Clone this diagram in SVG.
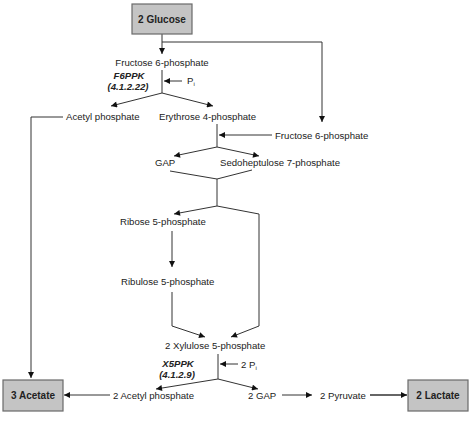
<svg xmlns="http://www.w3.org/2000/svg" width="474" height="422" viewBox="0 0 474 422">
<style>
text{font-family:"Liberation Sans",Arial,sans-serif;font-size:9.6px;fill:#222}
.b{font-weight:bold;font-size:10px}
.e{font-weight:bold;font-style:italic;font-size:9.6px}
.box{fill:#c4c4c4;stroke:#6a6a6a;stroke-width:1.2}
.c path{fill:none;stroke:#333;stroke-width:1}
.c path.a{marker-end:url(#ah)}
</style>
<defs>
<marker id="ah" viewBox="0 0 10 10" refX="10" refY="5" markerWidth="8" markerHeight="6" markerUnits="userSpaceOnUse" orient="auto">
<path d="M0,0 L10,5 L0,10 z" fill="#111"/>
</marker>
</defs>
<rect width="474" height="422" fill="#fff"/>
<g class="c" id="connectors">
<path class="a" d="M162,34 V54"/>
<path class="a" d="M162,42 H322 V122"/>
<path d="M162,70 V93"/>
<path class="a" d="M182,81 H164"/>
<path class="a" d="M162,93 L111,106"/>
<path class="a" d="M162,93 L213,106"/>
<path class="a" d="M63,117 H31 V378"/>
<path d="M217,124 V147"/>
<path class="a" d="M272,135 H219"/>
<path class="a" d="M217,147 L174,156"/>
<path class="a" d="M217,147 L259,156"/>
<path d="M170,171 L217,179 L252,170"/>
<path d="M217,179 V206"/>
<path class="a" d="M217,206 L174,214"/>
<path class="a" d="M217,206 L259,214 V326 L231,337"/>
<path class="a" d="M172,231 V267"/>
<path class="a" d="M172,292 V326 L205,337"/>
<path d="M218,354 V379"/>
<path class="a" d="M238,364 H220"/>
<path class="a" d="M218,379 L156,389"/>
<path class="a" d="M218,379 L258,389"/>
<path class="a" d="M110,395 H64"/>
<path class="a" d="M282,395 H312"/>
<path class="a" d="M370,395 H407" style="stroke-width:1.6"/>
</g>
<g id="glucose"><rect class="box" x="132" y="4" width="60" height="30"/><text class="b" x="162" y="23" text-anchor="middle">2 Glucose</text></g>
<g id="f6p"><text x="162" y="66" text-anchor="middle">Fructose 6-phosphate</text></g>
<g id="f6ppk"><text class="e" x="129" y="79" text-anchor="middle">F6PPK</text><text class="e" x="128" y="90" text-anchor="middle">(4.1.2.22)</text></g>
<g id="pi1"><text x="187" y="84">P<tspan font-size="6" dy="2">i</tspan></text></g>
<g id="acp1"><text x="66" y="120">Acetyl phosphate</text></g>
<g id="e4p"><text x="159" y="120">Erythrose 4-phosphate</text></g>
<g id="f6p2"><text x="275" y="139">Fructose 6-phosphate</text></g>
<g id="gap1"><text x="155" y="166">GAP</text></g>
<g id="s7p"><text x="220" y="166">Sedoheptulose 7-phosphate</text></g>
<g id="r5p"><text x="120" y="225">Ribose 5-phosphate</text></g>
<g id="ru5p"><text x="121" y="285">Ribulose 5-phosphate</text></g>
<g id="x5p"><text x="165" y="349">2 Xylulose 5-phosphate</text></g>
<g id="x5ppk"><text class="e" x="178" y="367" text-anchor="middle">X5PPK</text><text class="e" x="177" y="378" text-anchor="middle">(4.1.2.9)</text></g>
<g id="pi2"><text x="241" y="368">2 P<tspan font-size="6" dy="2">i</tspan></text></g>
<g id="acp2"><text x="113" y="399">2 Acetyl phosphate</text></g>
<g id="gap2"><text x="248" y="399">2 GAP</text></g>
<g id="pyr"><text x="320" y="399">2 Pyruvate</text></g>
<g id="acetate"><rect class="box" x="3" y="380" width="60" height="31"/><text class="b" x="33" y="399" text-anchor="middle">3 Acetate</text></g>
<g id="lactate"><rect class="box" x="408" y="380" width="60" height="31"/><text class="b" x="438" y="399" text-anchor="middle">2 Lactate</text></g>
</svg>
